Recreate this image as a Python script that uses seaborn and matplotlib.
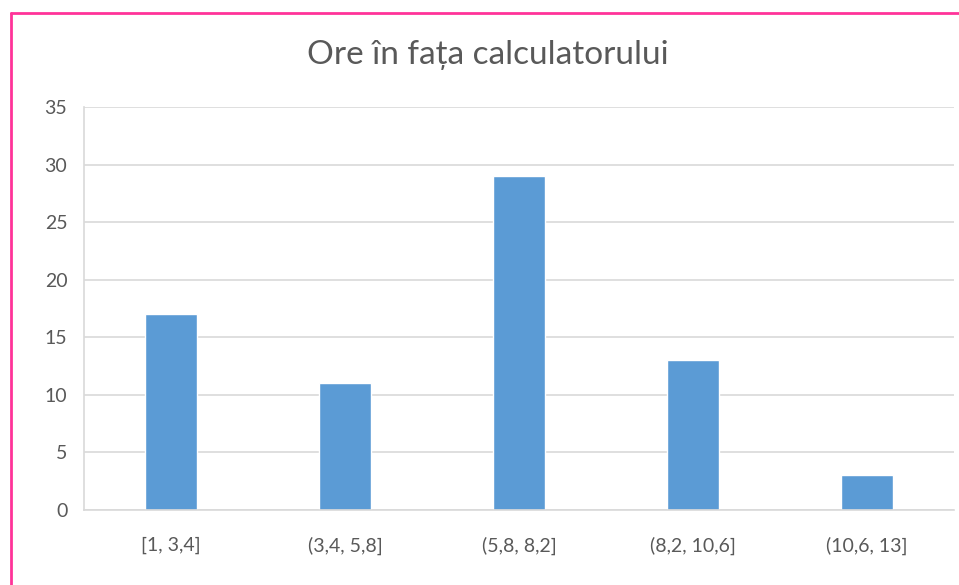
import matplotlib
matplotlib.use("Agg")
import matplotlib.pyplot as plt
from matplotlib.lines import Line2D
import seaborn as sns
import pandas as pd

categories = ["[1, 3,4]", "(3,4, 5,8]", "(5,8, 8,2]", "(8,2, 10,6]", "(10,6, 13]"]
values = [17, 11, 29, 13, 3]
yticks = [0, 5, 10, 15, 20, 25, 30, 35]
title = "Ore în fața calculatorului"

sns.set_theme(style="white")
plt.rcParams["font.family"] = ["Lato", "DejaVu Sans"]

W, H = 959, 585
fig = plt.figure(figsize=(W / 100, H / 100), dpi=100)
ax = fig.add_axes([84 / W, 1 - 510 / H, (954 - 84) / W, (510 - 107) / H])

df = pd.DataFrame({"cat": categories, "val": values})
sns.barplot(data=df, x="cat", y="val", color="#5B9BD5", saturation=1, width=0.3, ax=ax)

ax.set_ylim(0, 35)
ax.set_xlim(-0.5, len(categories) - 0.5)
ax.set_yticks(yticks)
ax.yaxis.grid(True, color="#D9D9D9", linewidth=1.2)
ax.set_axisbelow(True)
for s in ["top", "right"]:
    ax.spines[s].set_visible(False)
ax.spines["left"].set_color("#D9D9D9")
ax.spines["left"].set_linewidth(1.2)
ax.spines["bottom"].set_color("#D9D9D9")
ax.spines["bottom"].set_linewidth(1.2)
ax.tick_params(axis="both", length=0, colors="#595959", labelsize=14)
ax.tick_params(axis="y", pad=12)
ax.tick_params(axis="x", pad=19)
ax.set_xlabel("")
ax.set_ylabel("")

fig.text(488 / W, 1 - 64 / H, title, ha="center", va="baseline", fontsize=24, color="#595959")

# pink frame (left and top edges)
pink = "#FF3399"
fig.add_artist(Line2D([11 / W, 11 / W], [0, 1 - 13 / H], transform=fig.transFigure, color=pink, linewidth=2))
fig.add_artist(Line2D([11 / W, 1], [1 - 13 / H, 1 - 13 / H], transform=fig.transFigure, color=pink, linewidth=2))

fig.savefig("out.png", dpi=100, facecolor="white")
